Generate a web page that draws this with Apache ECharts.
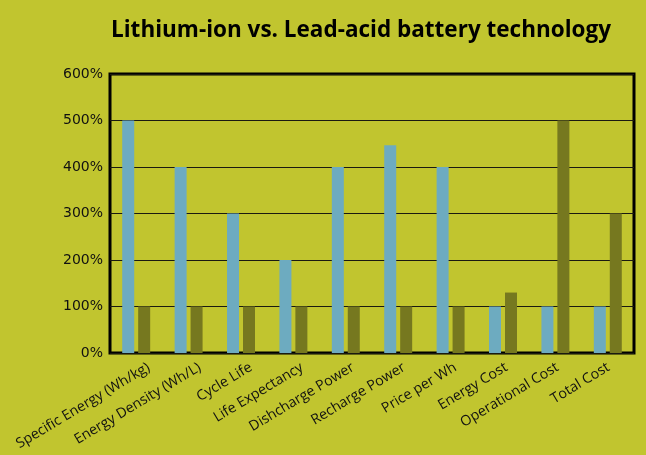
<!DOCTYPE html>
<html><head><meta charset="utf-8">
<script src="https://cdn.jsdelivr.net/npm/echarts@6/dist/echarts.min.js"></script>
<style>html,body{margin:0;padding:0;background:#C1C52F;}#c{width:646px;height:455px;}</style>
</head><body><div id="c"></div>
<script>
const categories = ["Specific Energy (Wh/kg)","Energy Density (Wh/L)","Cycle Life","Life Expectancy","Dishcharge Power","Recharge Power","Price per Wh","Energy Cost","Operational Cost","Total Cost"];
const lithiumIon = [500,400,300,200,400,447,400,100,100,100];
const leadAcid = [100,100,100,100,100,100,100,130,500,300];
const yTicks = [0,100,200,300,400,500,600];

const chart = echarts.init(document.getElementById('c'));
chart.setOption({
  backgroundColor:'#C1C52F',
  animation:false,
  title:{text:'Lithium-ion vs. Lead-acid battery technology',left:356,top:14,textAlign:'center',
    textStyle:{fontFamily:'Open Sans',fontWeight:'bold',fontSize:22.5,color:'#000'}},
  grid:[
    {left:110,right:12,top:74,bottom:102,show:true,borderColor:'#000',borderWidth:3,containLabel:false},
    {left:112,right:23,top:74,bottom:102,show:false,containLabel:false}
  ],
  xAxis:[
    {type:'category',data:categories,gridIndex:0,
      axisLine:{show:false},axisTick:{show:false},axisLabel:{show:false}},
    {type:'category',data:categories,gridIndex:1,
      axisLine:{show:false},axisTick:{show:false},splitLine:{show:false},
      axisLabel:{rotate:31,interval:0,fontFamily:'Open Sans',fontSize:14.2,color:'#111',margin:20,padding:[0,-13,0,0]}}
  ],
  yAxis:[
    {type:'value',gridIndex:0,min:yTicks[0],max:yTicks[yTicks.length-1],interval:100,
      axisLine:{show:false},axisTick:{show:false},
      axisLabel:{formatter:v=>v+'%',fontFamily:'DejaVu Sans',fontSize:14,color:'#111',margin:7},
      splitLine:{lineStyle:{color:'#1a1a10',width:1}}},
    {type:'value',gridIndex:1,show:false,splitLine:{show:false}}
  ],
  series:[
    {name:'Lithium-ion',type:'bar',data:lithiumIon,barWidth:12,barGap:'33%',itemStyle:{color:'#6DABC0'}},
    {name:'Lead-acid',type:'bar',data:leadAcid,barWidth:12,itemStyle:{color:'#76781F'}}
  ]
});
</script></body></html>
